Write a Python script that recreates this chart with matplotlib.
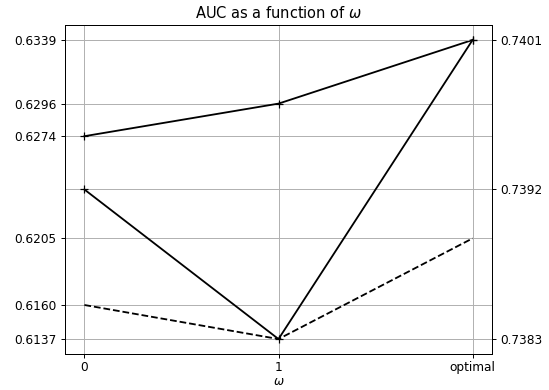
import matplotlib
matplotlib.use("Agg")
import matplotlib.pyplot as plt

categories = ["0", "1", "optimal"]
upper_left = [0.6274, 0.6296, 0.6339]
dashed_left = [0.6160, 0.6137, 0.6205]
v_right = [0.7392, 0.7383, 0.7401]
left_ticks = [0.6137, 0.6160, 0.6205, 0.6274, 0.6296, 0.6339]
right_ticks = [0.7383, 0.7392, 0.7401]

DPI = 87.5
W, H = 549, 390
fig = plt.figure(figsize=(W / DPI, H / DPI), dpi=DPI)
ax = fig.add_axes([65 / W, 1 - 354 / H, (492 - 65) / W, (354 - 25) / H])
x = list(range(len(categories)))
ax.plot(x, upper_left, color="black", marker="+")
ax.plot(x, dashed_left, color="black", linestyle="--")
ax.set_yticks(left_ticks)
ax.set_yticklabels([f"{v:.4f}" for v in left_ticks])
ax.set_xticks(x)
ax.set_xticklabels(categories)
ax.tick_params(axis="x", pad=2.5)
ax.grid(True)
ax.set_xlabel(r"$\omega$", labelpad=0.5)
ax.set_title(r"AUC as a function of $\omega$")

ax2 = ax.twinx()
ax2.plot(x, v_right, color="black", marker="+")
ax2.set_yticks(right_ticks)
ax2.set_yticklabels([f"{v:.4f}" for v in right_ticks])
ax2.grid(True)

fig.savefig("out.png", dpi=DPI)
